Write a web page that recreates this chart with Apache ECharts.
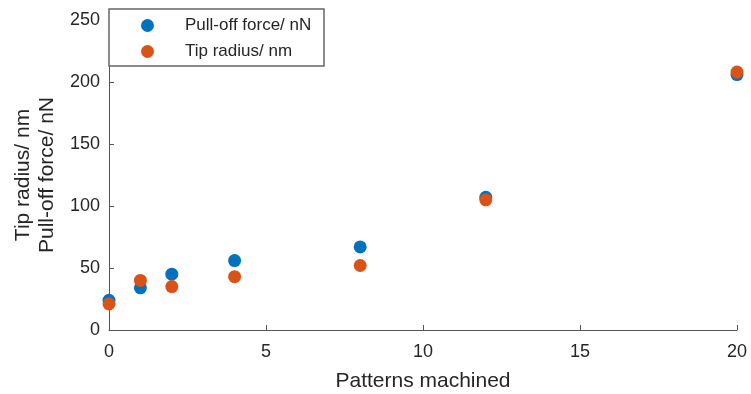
<!DOCTYPE html>
<html>
<head>
<meta charset="utf-8">
<script src="https://cdn.jsdelivr.net/npm/echarts@6/dist/echarts.min.js"></script>
<style>
  html, body { margin: 0; padding: 0; background: #fff; }
  #chart { width: 751px; height: 394px; }
</style>
</head>
<body>
<div id="chart"></div>
<script>
// patterns machined (x)
const patterns = [0, 1, 2, 4, 8, 12, 20];
// values
const pullOff = [24, 34, 45, 56, 67, 107, 206];
const tipRadius = [21, 40, 35, 43, 52, 105, 208];
const xTicks = [0, 5, 10, 15, 20];
const yTicks = [0, 50, 100, 150, 200, 250];

const font = 'Liberation Sans, Arial, sans-serif';
const axisColor = '#555';
const textColor = '#262626';

function pairs(xs, ys) {
  return xs.map((x, i) => [x, ys[i]]);
}

const chart = echarts.init(document.getElementById('chart'));
chart.setOption({
  animation: false,
  backgroundColor: '#fff',
  textStyle: { fontFamily: font },
  color: ['#0072BD', '#D95319'],
  grid: { left: 109, right: 14, top: 20, bottom: 64, outerBoundsMode: 'none' },
  graphic: [
    {
      type: 'rect',
      z: 3,
      shape: { x: 109, y: 9, width: 215, height: 57 },
      style: { fill: '#fff', stroke: '#666', lineWidth: 1.5 },
    },
  ],
  legend: {
    orient: 'vertical',
    left: 141,
    top: 17,
    padding: 0,
    itemGap: 9,
    itemWidth: 13,
    itemHeight: 13,
    icon: 'circle',
    z: 5,
    textStyle: {
      fontFamily: font,
      fontSize: 17,
      lineHeight: 17,
      color: textColor,
      padding: [0, 0, 0, 26],
    },
    data: ['Pull-off force/ nN', 'Tip radius/ nm'],
  },
  xAxis: {
    type: 'value',
    min: xTicks[0],
    max: xTicks[xTicks.length - 1],
    interval: 5,
    name: 'Patterns machined',
    nameLocation: 'middle',
    nameGap: 41,
    nameTextStyle: { fontFamily: font, fontSize: 21, color: textColor },
    axisLine: { show: true, lineStyle: { color: axisColor, width: 1 } },
    axisTick: { show: true, inside: true, length: 5, lineStyle: { color: axisColor } },
    axisLabel: { fontFamily: font, fontSize: 18, color: textColor, margin: 13 },
    splitLine: { show: false },
  },
  yAxis: {
    type: 'value',
    min: yTicks[0],
    max: yTicks[yTicks.length - 1],
    interval: 50,
    name: 'Tip radius/ nm\nPull-off force/ nN',
    nameLocation: 'middle',
    nameGap: 48,
    nameTextStyle: { fontFamily: font, fontSize: 21, lineHeight: 24, color: textColor },
    axisLine: { show: true, lineStyle: { color: axisColor, width: 1 } },
    axisTick: { show: true, inside: true, length: 5, lineStyle: { color: axisColor } },
    axisLabel: { fontFamily: font, fontSize: 18, color: textColor, margin: 9 },
    splitLine: { show: false },
  },
  series: [
    {
      name: 'Pull-off force/ nN',
      type: 'scatter',
      symbol: 'circle',
      symbolSize: 13,
      itemStyle: { opacity: 1 },
      data: pairs(patterns, pullOff),
    },
    {
      name: 'Tip radius/ nm',
      type: 'scatter',
      symbol: 'circle',
      symbolSize: 13,
      itemStyle: { opacity: 1 },
      data: pairs(patterns, tipRadius),
    },
  ],
});
window.addEventListener('resize', () => chart.resize());
</script>
</body>
</html>
